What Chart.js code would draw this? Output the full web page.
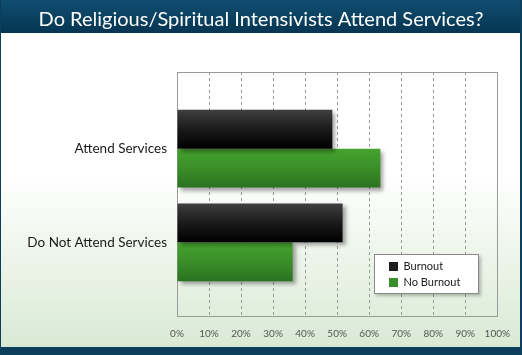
<!DOCTYPE html>
<html>
<head>
<meta charset="utf-8">
<script src="https://cdn.jsdelivr.net/npm/chart.js@4/dist/chart.umd.min.js"></script>
<style>
  html, body { margin: 0; padding: 0; background: #ffffff; }
  #wrap { width: 522px; height: 355px; position: relative; }
</style>
</head>
<body>
<div id="wrap"><canvas id="c" width="522" height="355"></canvas></div>
<script>
// ---- data ----
const TITLE = 'Do Religious/Spiritual Intensivists Attend Services?';
const categories = ['Attend Services', 'Do Not Attend Services'];
const seriesNames = ['Burnout', 'No Burnout'];
const burnout = [48.5, 51.7];
const noBurnout = [63.5, 36.1];
const xTicks = [0, 10, 20, 30, 40, 50, 60, 70, 80, 90, 100];

// ---- styling ----
const FONT = 'Lato, "Open Sans", sans-serif';
const CAT_PCT = 0.83;
const gradStops = [
  ['#404040', '#1a1a1a', '#000000'],
  ['#46a32f', '#3a8f29', '#2b7220']
];
const solidColors = ['#1e1e1e', '#3a8f29'];

function barGradient(dsIndex) {
  return (c) => {
    const chart = c.chart;
    const ys = chart.scales && chart.scales.y;
    if (!ys || !chart.chartArea || c.type !== 'data') return solidColors[dsIndex];
    const v = c.raw && typeof c.raw.y === 'number' ? c.raw.y : c.dataIndex;
    const center = ys.getPixelForValue(v);
    const gap = Math.abs(ys.getPixelForValue(1) - ys.getPixelForValue(0));
    const half = gap * CAT_PCT / 2;
    const top = dsIndex === 0 ? center - half : center;
    if (!isFinite(top) || !isFinite(half) || half <= 0) return solidColors[dsIndex];
    const g = chart.ctx.createLinearGradient(0, top, 0, top + half);
    const s = gradStops[dsIndex];
    g.addColorStop(0, s[0]);
    g.addColorStop(0.5, s[1]);
    g.addColorStop(1, s[2]);
    return g;
  };
}

const LEGEND_BOX = { x: 374, y: 254, w: 105, h: 40 };

const framePlugin = {
  id: 'frame',
  afterInit(chart) {
    const lg = chart.legend;
    if (lg) {
      lg._layers = () => [{ z: 1, draw: (ca) => lg.draw(ca) }];
    }
  },
  beforeDraw(chart) {
    const ctx = chart.ctx;
    const W = chart.width, H = chart.height;
    ctx.save();
    const bg = ctx.createLinearGradient(0, 33, 0, 347);
    bg.addColorStop(0, '#ffffff');
    bg.addColorStop(0.45, '#ffffff');
    bg.addColorStop(1, '#d9ead4');
    ctx.fillStyle = bg;
    ctx.fillRect(0, 0, W, H);
    const tg = ctx.createLinearGradient(0, 0, 0, 33);
    tg.addColorStop(0, '#0f4e70');
    tg.addColorStop(1, '#063551');
    ctx.fillStyle = tg;
    ctx.fillRect(0, 0, W, 33);
    ctx.fillStyle = '#0b3f5c';
    ctx.fillRect(0, 347, W, H - 347);
    ctx.fillRect(0, 0, 1, H);
    ctx.fillRect(W - 2, 0, 2, H);
    ctx.restore();
  },
  beforeDatasetsDraw(chart) {
    const ctx = chart.ctx;
    const a = chart.chartArea;
    ctx.save();
    ctx.strokeStyle = '#9a9a9a';
    ctx.lineWidth = 1;
    ctx.strokeRect(Math.round(a.left) + 0.5, Math.round(a.top) + 0.5,
                   Math.round(a.right - a.left), Math.round(a.bottom - a.top));
    ctx.restore();
    ctx.save();
    ctx.shadowColor = 'rgba(0,0,0,0.35)';
    ctx.shadowBlur = 4;
    ctx.shadowOffsetX = 3;
    ctx.shadowOffsetY = 3;
  },
  afterDatasetsDraw(chart) {
    const ctx = chart.ctx;
    ctx.restore();
    const b = LEGEND_BOX;
    ctx.save();
    ctx.shadowColor = 'rgba(0,0,0,0.25)';
    ctx.shadowBlur = 3;
    ctx.shadowOffsetX = 2;
    ctx.shadowOffsetY = 2;
    ctx.fillStyle = '#ffffff';
    ctx.fillRect(b.x, b.y, b.w, b.h);
    ctx.restore();
    ctx.save();
    ctx.strokeStyle = '#8a8a8a';
    ctx.lineWidth = 1;
    ctx.strokeRect(b.x + 0.5, b.y + 0.5, b.w - 1, b.h - 1);
    ctx.restore();
  },
  afterLayout(chart) {
    const lg = chart.legend;
    if (!lg) return;
    const b = LEGEND_BOX;
    lg.left = 384;
    lg.top = 256;
    lg.right = b.x + b.w;
    lg.bottom = b.y + b.h;
    lg.width = lg.right - lg.left;
    lg.height = lg.bottom - lg.top;
  }
};

const yPosTop = -0.819, yPosBottom = 1.787;

new Chart(document.getElementById('c'), {
  type: 'bar',
  data: {
    datasets: [
      {
        label: seriesNames[0],
        data: burnout.map((v, i) => ({ x: v, y: i })),
        backgroundColor: barGradient(0),
        borderWidth: 0
      },
      {
        label: seriesNames[1],
        data: noBurnout.map((v, i) => ({ x: v, y: i })),
        backgroundColor: barGradient(1),
        borderWidth: 0
      }
    ]
  },
  options: {
    indexAxis: 'y',
    responsive: false,
    animation: false,
    events: [],
    categoryPercentage: CAT_PCT,
    barPercentage: 1.0,
    layout: { padding: { left: 0, right: 0, top: 0, bottom: 3 } },
    scales: {
      x: {
        type: 'linear',
        min: 0,
        max: 100,
        afterBuildTicks: (s) => { s.ticks = xTicks.map(v => ({ value: v })); },
        ticks: {
          callback: (v) => v + '%',
          font: { family: FONT, size: 10 },
          color: '#555555',
          padding: 12,
          maxRotation: 0,
          autoSkip: false
        },
        grid: { color: '#9a9a9a', lineWidth: 1, drawTicks: false },
        border: { display: false, dash: [3, 3] }
      },
      y: {
        type: 'linear',
        reverse: true,
        offset: false,
        bounds: 'data',
        grace: 0,
        min: yPosTop,
        max: yPosBottom,
        afterBuildTicks: (s) => { s.ticks = categories.map((_, i) => ({ value: i })); },
        afterFit: (s) => { s.width = 177; },
        ticks: {
          callback: (v) => categories[v] !== undefined ? categories[v] : '',
          font: { family: FONT, size: 13.5 },
          color: '#1a1a1a',
          padding: 10,
          autoSkip: false
        },
        grid: { display: false, drawTicks: false },
        border: { display: false }
      },
      yRight: {
        type: 'linear',
        position: 'right',
        display: true,
        min: 0,
        max: 1,
        afterFit: (s) => { s.width = 24; },
        ticks: { display: false },
        grid: { display: false, drawTicks: false },
        border: { display: false }
      }
    },
    plugins: {
      title: {
        display: true,
        text: TITLE,
        color: '#ffffff',
        font: { family: FONT, size: 20, weight: 'normal' },
        padding: { top: 8, bottom: 40 }
      },
      legend: {
        display: true,
        position: 'chartArea',
        align: 'start',
        labels: {
          boxWidth: 9,
          boxHeight: 9,
          padding: 5,
          color: '#1a1a1a',
          font: { family: FONT, size: 11 },
          generateLabels: (chart) => {
            const items = Chart.defaults.plugins.legend.labels.generateLabels(chart);
            return items.map((it, i) => Object.assign(it, {
              fillStyle: solidColors[i],
              strokeStyle: solidColors[i],
              lineWidth: 0
            }));
          }
        }
      },
      tooltip: { enabled: false }
    }
  },
  plugins: [framePlugin]
});
</script>
</body>
</html>
